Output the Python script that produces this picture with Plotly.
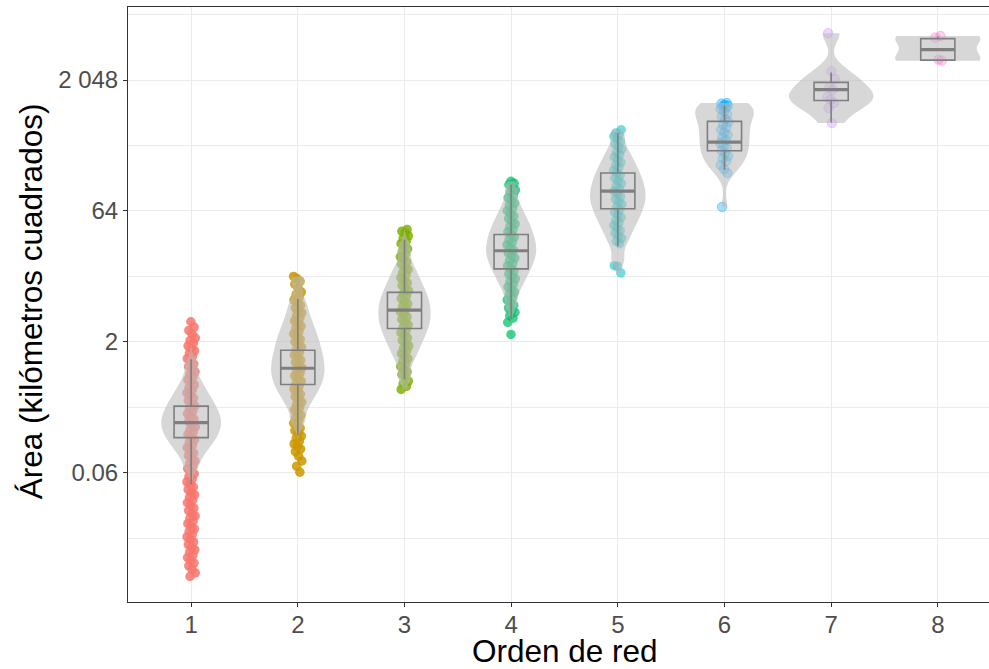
import numpy as np
import plotly.graph_objects as go

# ---------------- data (areas in km²) ----------------
ordenes = [1, 2, 3, 4, 5, 6, 7, 8]
colores = ["#F8766D", "#CD9600", "#7CAE00", "#00BE67",
           "#00BFC4", "#00A9FF", "#C77CFF", "#FF61CC"]

# observed (jittered) points per network order
puntos_orden1 = [0.0040, 0.0044, 0.0048, 0.0053, 0.0057, 0.0061, 0.0066, 0.0070, 0.0076,
                 0.0081, 0.0087, 0.0093, 0.0100, 0.0107, 0.0114, 0.0123, 0.0131, 0.0141, 0.0151,
                 0.0162, 0.0173, 0.0186, 0.0199, 0.0213, 0.0229, 0.0245, 0.0263, 0.0282, 0.0302,
                 0.0323, 0.0347, 0.0372, 0.0398, 0.0427, 0.0458, 0.0490, 0.0526, 0.0563, 0.0604,
                 0.0647, 0.0694, 0.0743, 0.0797, 0.0854, 0.0915, 0.0981, 0.105, 0.113, 0.121,
                 0.129, 0.139, 0.149, 0.159, 0.171, 0.183, 0.196, 0.210, 0.225, 0.242,
                 0.259, 0.278, 0.297, 0.319, 0.342, 0.366, 0.392, 0.421, 0.451, 0.483,
                 0.518, 0.555, 0.595, 0.638, 0.683, 0.732, 0.785, 0.841, 0.902, 0.966,
                 1.04, 1.11, 1.19, 1.28, 1.37, 1.46, 1.57, 1.68, 1.80, 1.93,
                 2.07, 2.21, 2.45, 2.70, 2.95, 3.40]
puntos_orden2 = [0.0633, 0.0743, 0.0854, 0.0967, 0.109, 0.117,
                 0.125, 0.134, 0.144, 0.154, 0.165, 0.177, 0.190, 0.203, 0.218, 0.233,
                 0.250, 0.268, 0.287, 0.308, 0.330, 0.354, 0.379, 0.406, 0.435, 0.467,
                 0.500, 0.536, 0.574, 0.616, 0.660, 0.707, 0.758, 0.812, 0.871, 0.933,
                 1.00, 1.07, 1.15, 1.23, 1.32, 1.41, 1.52, 1.62, 1.74, 1.87,
                 2.00, 2.14, 2.30, 2.46, 2.64, 2.83, 3.03, 3.25, 3.48, 3.73,
                 4.00, 4.29, 4.60, 4.92, 5.28, 5.66, 6.06, 6.50, 6.96, 7.46,
                 8.30, 9.20, 9.90, 10.7, 11.3]
puntos_orden3 = [0.566, 0.616, 0.660, 0.707, 0.785, 0.841, 0.902, 0.966,
                 1.04, 1.11, 1.19, 1.28, 1.37, 1.46, 1.57, 1.68, 1.80, 1.93,
                 2.07, 2.22, 2.38, 2.55, 2.73, 2.93, 3.14, 3.36, 3.61, 3.86,
                 4.14, 4.44, 4.76, 5.10, 5.46, 5.86, 6.28, 6.73, 7.21, 7.73,
                 8.28, 8.88, 9.51, 10.2, 10.9, 11.7, 12.6, 13.5, 14.4, 15.5,
                 16.6, 17.8, 19.0, 20.4, 21.9, 23.4, 25.1, 26.9, 28.8, 30.9,
                 33.1, 35.5, 37.3, 39.1]
puntos_orden4 = [2.43, 3.34, 3.73, 4.00, 4.35,
                 4.60, 4.92, 5.28, 5.66, 6.06, 6.50, 6.96, 7.46,
                 8.00, 8.58, 9.19, 9.85, 10.6, 11.3, 12.1, 13.0, 13.9, 14.9,
                 16.0, 17.2, 18.4, 19.7, 21.1, 22.6, 24.3, 26.0, 27.9, 29.9,
                 32.0, 34.3, 36.8, 39.4, 42.2, 45.3, 48.5, 52.0, 55.7, 59.7,
                 64.0, 68.6, 73.5, 78.8, 84.4, 90.5, 97.0, 104, 111, 119,
                 128, 133, 140]
puntos_orden5 = [12.4, 14.8, 15.0,
                 26.9, 28.8, 30.9,
                 33.1, 35.5, 38.0, 40.8, 43.7, 46.8, 50.2, 53.8, 57.7, 61.8,
                 66.2, 71.0, 76.1, 81.6, 87.4, 93.7, 100, 108, 115, 124,
                 132, 142, 152, 163, 175, 187, 201, 215, 231, 247,
                 265, 284, 304, 326, 350, 375, 402, 431,
                 462, 481, 505, 549]
puntos_orden6 = [71.0, 175, 194, 215, 239, 256, 274, 294, 315, 338, 362, 388, 416, 446,
                 478, 512, 549, 588, 630, 676, 724, 776, 832, 891, 955, 989, 1024,
                 1040, 1060, 1098, 1113]
puntos_orden7 = [657, 975, 1120, 1218, 1305, 1585, 1699, 2106, 2574, 7082]
puntos_orden8 = [3420, 3516, 6295, 6562]

# representative samples of the (dense) distributions used for the violin shapes
densidad_orden1 = [0.0733, 0.100, 0.119, 0.136, 0.153, 0.168, 0.185, 0.203, 0.221, 0.240,
                   0.262, 0.285, 0.314, 0.346, 0.384, 0.432, 0.493, 0.582, 0.727, 1.087]
densidad_orden2 = [0.246, 0.366, 0.460, 0.547, 0.633, 0.717, 0.812, 0.914, 1.028, 1.157,
                   1.310, 1.484, 1.705, 1.959, 2.28, 2.69, 3.27, 4.14, 5.70, 10.2]
densidad_orden3 = [0.774, 1.223, 1.569, 1.892, 2.22, 2.55, 2.89, 3.25, 3.63, 4.06,
                   4.53, 5.06, 5.66, 6.36, 7.21, 8.28, 9.71, 11.7, 15.0, 23.8]
densidad_orden4 = [5.35, 8.00, 9.99, 11.8, 13.5, 15.4, 17.1, 19.0, 21.0, 23.1,
                   25.5, 28.2, 31.3, 35.0, 39.1, 44.6, 51.3, 61.0, 77.2, 117]
densidad_orden5 = [17.3, 27.5, 35.7, 43.1, 50.6, 58.1, 65.8, 74.1, 82.7, 91.8,
                   102, 114, 127, 143, 162, 185, 215, 258, 326, 502]

# box-plot statistics (km²)
caja_bigote_inf = [0.0457, 0.167, 0.737, 3.61, 25.1, 191, 666, 3468]
caja_q1 = [0.158, 0.646, 2.85, 13.8, 67.7, 315, 1193, 3468]
caja_mediana = [0.235, 0.993, 4.63, 22.3, 108, 396, 1585, 4575]
caja_q3 = [0.364, 1.60, 7.41, 34.3, 175, 685, 1924, 6123]
caja_bigote_sup = [1.26, 6.23, 29.9, 128, 505, 1038, 2504, 6472]

ticks_valores = [0.0625, 2, 64, 2048]
ticks_texto = ["0.06", "2", "64", "2 048"]

# ---------------- styling ----------------
ancho_violin = [0.56, 0.50, 0.49, 0.47, 0.52, 0.55, 0.79, 0.80]
banda_violin = [0.30, 0.30, 0.30, 0.30, 0.30, 0.38, 0.38, 0.37]
alfa_puntos = [0.85, 0.85, 0.82, 0.72, 0.55, 0.36, 0.30, 0.30]
borde_puntos = [0, 0, 0, 0, 0, 0.8, 0.8, 0.8]
ancho_caja = 0.32
jitter = 0.04
FONT = "Liberation Sans, Arial, Helvetica, sans-serif"

puntos = [puntos_orden1, puntos_orden2, puntos_orden3, puntos_orden4,
          puntos_orden5, puntos_orden6, puntos_orden7, puntos_orden8]
densidades = [densidad_orden1, densidad_orden2, densidad_orden3, densidad_orden4,
              densidad_orden5, puntos_orden6, puntos_orden7, puntos_orden8]


def rgba(hexcol, a):
    h = hexcol.lstrip("#")
    r, g, b = int(h[0:2], 16), int(h[2:4], 16), int(h[4:6], 16)
    return f"rgba({r},{g},{b},{a})"


fig = go.Figure()

# jittered points (bottom layer)
for i, (g, pts, col) in enumerate(zip(ordenes, puntos, colores)):
    y = np.log2(np.array(pts, dtype=float))
    idx = np.arange(len(y))
    frac = (idx * 0.6180339887 + 0.37 * g) % 1.0
    x = g + jitter * (2 * frac - 1)
    a = alfa_puntos[i]
    fig.add_trace(go.Scatter(
        x=x, y=y, mode="markers", yaxis="y",
        marker=dict(size=9.5, color=rgba(col, a),
                    line=dict(color=rgba(col, min(1, a + 0.15)), width=borde_puntos[i])),
        hoverinfo="skip", showlegend=False))

# violins (on overlaid axis so they sit above the points)
for i, g in enumerate(ordenes):
    muestra = np.log2(np.array(densidades[i], dtype=float))
    pts = np.log2(np.array(puntos[i], dtype=float))
    kw = dict(spanmode="hard") if i >= 5 else dict(spanmode="manual", span=[pts.min(), pts.max()])
    fig.add_trace(go.Violin(
        x=[g] * len(muestra), y=muestra, yaxis="y2",
        width=ancho_violin[i], scalemode="width", bandwidth=banda_violin[i],
        fillcolor="rgba(188,188,188,0.6)",
        line=dict(width=0, color="rgba(0,0,0,0)"),
        points=False, box_visible=False, meanline_visible=False,
        hoverinfo="skip", showlegend=False, **kw))

# boxes
fig.add_trace(go.Box(
    x=ordenes, yaxis="y2",
    q1=np.log2(caja_q1), median=np.log2(caja_mediana), q3=np.log2(caja_q3),
    lowerfence=np.log2(caja_bigote_inf), upperfence=np.log2(caja_bigote_sup),
    width=ancho_caja, fillcolor="rgba(0,0,0,0)",
    line=dict(color="#7F7F7F", width=1.6), whiskerwidth=0,
    boxpoints=False, hoverinfo="skip", showlegend=False))

# thicker median bars
mx, my = [], []
for g, m in zip(ordenes, caja_mediana):
    mx += [g - ancho_caja / 2, g + ancho_caja / 2, None]
    my += [np.log2(m), np.log2(m), None]
fig.add_trace(go.Scatter(x=mx, y=my, mode="lines", yaxis="y2",
                         line=dict(color="#7F7F7F", width=3.2),
                         hoverinfo="skip", showlegend=False))

ymaj = np.log2(ticks_valores)
ymin = list(ymaj - 2.5) + [ymaj[-1] + 2.5]
yrange = [-8.94, 13.79]

axis_common = dict(showline=True, linecolor="#333333", linewidth=1, mirror=True,
                   ticks="outside", ticklen=4, tickwidth=1, tickcolor="#333333",
                   zeroline=False, showgrid=True, gridcolor="#EBEBEB", gridwidth=1.1,
                   tickfont=dict(family=FONT, size=24, color="#4D4D4D"))

fig.update_layout(
    width=989, height=669,
    margin=dict(l=128, r=0, t=7, b=67),
    paper_bgcolor="white", plot_bgcolor="white",
    violinmode="overlay", boxmode="overlay", showlegend=False,
    xaxis=dict(range=[0.408, 8.48], tickmode="array", tickvals=ordenes,
               ticktext=[str(o) for o in ordenes], ticklabelstandoff=-3, **axis_common),
    yaxis=dict(range=yrange, tickmode="array", tickvals=ymaj, ticktext=ticks_texto,
               minor=dict(tickmode="array", tickvals=ymin, showgrid=True,
                          gridcolor="#EBEBEB", gridwidth=0.55, ticks=""),
               **axis_common),
    yaxis2=dict(overlaying="y", range=yrange, visible=False),
    annotations=[
        dict(text="Orden de red", xref="paper", yref="paper",
             x=(565 - 128) / 861, y=(602.5 - 652) / 595.5,
             xanchor="center", yanchor="middle", showarrow=False,
             font=dict(family=FONT, size=31.5, color="black")),
        dict(text="Área (kilómetros cuadrados)", xref="paper", yref="paper",
             x=(31 - 128) / 861, y=(602.5 - 301.5) / 595.5, textangle=-90,
             xanchor="center", yanchor="middle", showarrow=False,
             font=dict(family=FONT, size=31.5, color="black")),
    ],
)

fig.write_html("out.html", config={"displayModeBar": False},
               post_script="document.body.style.margin='0';document.body.style.padding='0';")
